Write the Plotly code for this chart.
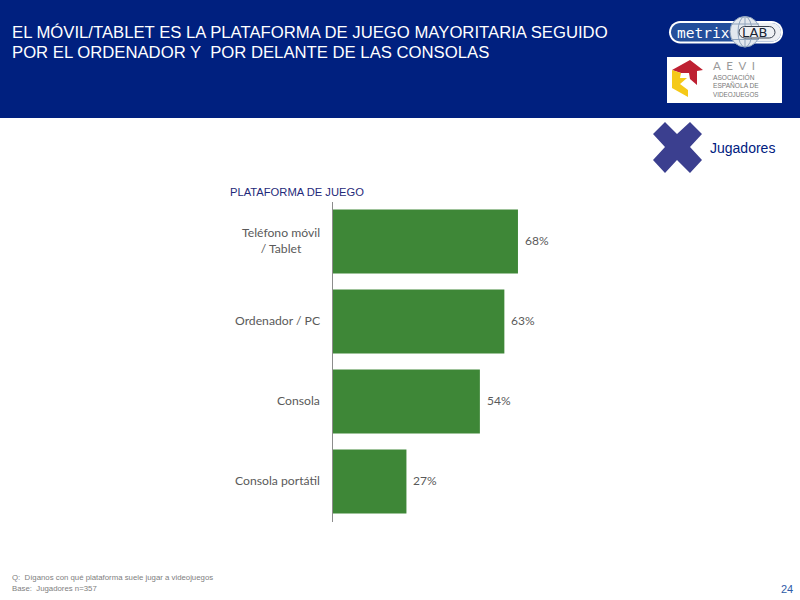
import plotly.graph_objects as go

categories = ["Teléfono móvil<br>/ Tablet", "Ordenador / PC", "Consola", "Consola portátil"]
shares = [68, 63, 54, 27]
share_labels = ["68%", "63%", "54%", "27%"]

W, H = 800, 600
NAVY = "#00207F"
GREEN = "#3E8737"
GREY = "#5A5A5A"


def px(x):
    return x / W


def py(y):
    return 1 - y / H


def poly(points, fill, line=None, width=0):
    path = "M " + " L ".join(f"{px(x):.5f},{py(y):.5f}" for x, y in points) + " Z"
    return dict(type="path", xref="paper", yref="paper", path=path, fillcolor=fill,
                line=dict(color=line or fill, width=width), layer="above")


def rect(x0, y0, x1, y1, fill, layer="below"):
    return dict(type="rect", xref="paper", yref="paper", x0=px(x0), x1=px(x1),
                y0=py(y1), y1=py(y0), fillcolor=fill, line=dict(width=0), layer=layer)


def oval(x0, y0, x1, y1, fill, line, width=1):
    return dict(type="circle", xref="paper", yref="paper", x0=px(x0), x1=px(x1),
                y0=py(y1), y1=py(y0), fillcolor=fill, line=dict(color=line, width=width), layer="above")


def stroke(x0, y0, x1, y1, color, width=1):
    return dict(type="line", xref="paper", yref="paper", x0=px(x0), x1=px(x1),
                y0=py(y0), y1=py(y1), line=dict(color=color, width=width), layer="above")


def pill(x0, y0, x1, y1, fill, line=None, width=0):
    # rounded bar built from two cubic end caps
    r = (y1 - y0) / 2
    k = r * 0.55
    P = lambda x, y: f"{px(x):.5f},{py(y):.5f}"
    path = (f"M {P(x0 + r, y0)} L {P(x1 - r, y0)} "
            f"C {P(x1 - r + k, y0)} {P(x1, y0 + r - k)} {P(x1, y0 + r)} "
            f"C {P(x1, y1 - r + k)} {P(x1 - r + k, y1)} {P(x1 - r, y1)} "
            f"L {P(x0 + r, y1)} "
            f"C {P(x0 + r - k, y1)} {P(x0, y1 - r + k)} {P(x0, y0 + r)} "
            f"C {P(x0, y0 + r - k)} {P(x0 + r - k, y0)} {P(x0 + r, y0)} Z")
    return dict(type="path", xref="paper", yref="paper", path=path, fillcolor=fill,
                line=dict(color=line or fill, width=width), layer="above")


def label(x, y, text, size, color, family="Liberation Sans"):
    return dict(xref="paper", yref="paper", x=px(x), y=py(y), text=text, showarrow=False,
                xanchor="left", yanchor="middle", align="left", borderpad=0, borderwidth=0,
                font=dict(family=family, size=size, color=color))


fig = go.Figure(go.Bar(
    y=categories, x=shares, orientation="h",
    marker=dict(color=GREEN, line=dict(width=0)),
    hoverinfo="skip",
))

GLOBE = "#8FA3BC"
shapes = [
    rect(0, 0, 800, 118, NAVY),
    # metrix LAB badge
    pill(669, 21, 783, 43.5, "#FFFFFF"),
    pill(671, 23, 781, 41.5, "#234E9B"),
    pill(738, 23, 781, 41.5, "#EEF0F4"),
    oval(730, 16.5, 760, 47, "#E3E8EE", GLOBE, 1),
    oval(738, 16.5, 752, 47, "rgba(0,0,0,0)", GLOBE, 1),
    stroke(745, 16.5, 745, 47, GLOBE),
    stroke(731, 24, 759, 24, GLOBE),
    stroke(731, 39.5, 759, 39.5, GLOBE),
    pill(739, 26.5, 775, 38, "#EEF0F4", line="#39414F", width=1),
    # AEVI badge
    rect(667, 57, 782, 103, "#FFFFFF", layer="above"),
    poly([(672, 70), (690, 60), (703, 70), (697, 71), (697, 85), (690, 79), (689, 73), (681, 73)], "#BE2032"),
    poly([(672, 70), (681, 73), (680, 78), (687, 78), (680, 84), (688, 90), (688, 97), (672, 88)], "#F5C918"),
    # audience marker
    poly([(665, 122), (677, 134), (690, 122), (702, 134), (690, 147), (702, 160),
          (690, 173), (677, 160), (665, 173), (653, 160), (665, 147), (653, 134)], "#3B3F8F"),
]

annotations = [
    label(12, 32, "EL MÓVIL/TABLET ES LA PLATAFORMA DE JUEGO MAYORITARIA SEGUIDO", 16.7, "#FFFFFF"),
    label(12, 52, "POR EL ORDENADOR Y  POR DELANTE DE LAS CONSOLAS", 16.7, "#FFFFFF"),
    label(710, 148, "Jugadores", 14, "#00207F"),
    label(230, 192, "PLATAFORMA DE JUEGO", 11.2, "#1F2A7A"),
    label(12, 577, "Q:  Díganos con qué plataforma suele jugar a videojuegos", 7.8, "#808080"),
    label(12, 588.5, "Base:  Jugadores n=357", 7.8, "#808080"),
    label(781, 589, "24", 11, "#2F5CA8"),
    label(677, 32.5, "metrix", 14.5, "#FFFFFF", family="DejaVu Sans Mono"),
    label(742, 32.5, "LAB", 13, "#1A2433", family="DejaVu Sans"),
    label(713, 66, "A  E  V  I", 11.5, "#999999", family="Lato"),
    label(713, 77, "ASOCIACIÓN", 6.6, "#777777"),
    label(713, 85.5, "ESPAÑOLA DE", 6.6, "#777777"),
    label(713, 94, "VIDEOJUEGOS", 6.3, "#777777"),
]
# category captions sit left of the axis and are centred line by line
for cat in categories:
    annotations.append(dict(xref="paper", yref="y", x=px(320.5), y=cat, text=cat, showarrow=False,
                            xanchor="right", align="center", borderpad=0, yshift=1,
                            font=dict(family="Lato", size=12.2, color=GREY)))
# value captions follow the end of each bar
for cat, value, text in zip(categories, shares, share_labels):
    annotations.append(dict(xref="x", yref="y", x=value, y=cat, text=text, showarrow=False,
                            xanchor="left", xshift=6, yshift=1, borderpad=0,
                            font=dict(family="Lato", size=12, color=GREY)))

fig.update_layout(
    width=W, height=H, margin=dict(l=0, r=0, t=0, b=0),
    paper_bgcolor="#FFFFFF", plot_bgcolor="#FFFFFF", showlegend=False,
    bargap=0.2, shapes=shapes, annotations=annotations,
    xaxis=dict(domain=[px(333), px(333 + 272)], range=[0, 100], visible=False),
    yaxis=dict(domain=[py(521.5), py(201.5)], autorange="reversed", categoryorder="array",
               categoryarray=categories, showticklabels=False, ticks="", showgrid=False,
               zeroline=False, showline=True, linecolor="#8C8C8C", linewidth=1.3),
)

fig.write_html("out.html", config=dict(displayModeBar=False))
